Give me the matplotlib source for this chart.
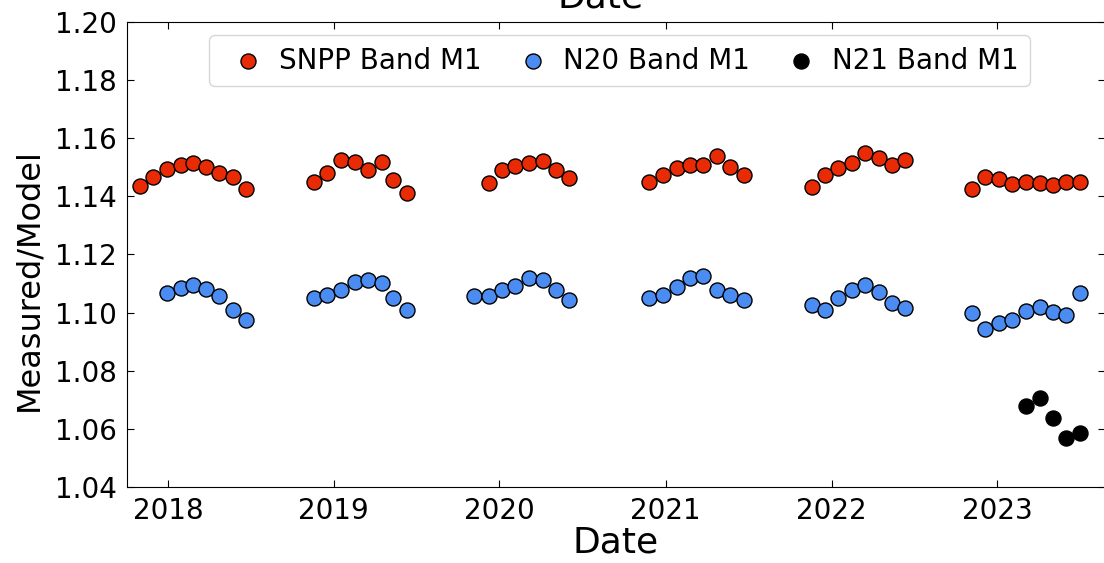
import matplotlib
matplotlib.use("Agg")
import matplotlib.pyplot as plt
import matplotlib.dates as mdates
import pandas as pd

# lunar calibration ratios, band M1
snpp_dates = [
    "2017-11-01", "2017-11-30", "2017-12-31", "2018-01-29", "2018-02-25", "2018-03-26", "2018-04-24", "2018-05-25", "2018-06-23",
    "2018-11-19", "2018-12-18", "2019-01-17", "2019-02-16", "2019-03-18", "2019-04-17", "2019-05-12", "2019-06-12",
    "2019-12-08", "2020-01-06", "2020-02-05", "2020-03-06", "2020-04-05", "2020-05-05", "2020-06-03",
    "2020-11-26", "2020-12-26", "2021-01-25", "2021-02-24", "2021-03-25", "2021-04-24", "2021-05-23", "2021-06-22",
    "2021-11-18", "2021-12-17", "2022-01-16", "2022-02-15", "2022-03-16", "2022-04-16", "2022-05-15", "2022-06-11",
    "2022-11-06", "2022-12-05", "2023-01-04", "2023-02-03", "2023-03-05", "2023-04-04", "2023-05-04", "2023-06-02", "2023-07-01",
]
snpp_ratio = [
    1.1437, 1.1466, 1.1494, 1.1508, 1.1514, 1.1502, 1.1479, 1.1468, 1.1426,
    1.1448, 1.1479, 1.1525, 1.1519, 1.1491, 1.1519, 1.1456, 1.1411,
    1.1445, 1.1491, 1.1504, 1.1514, 1.1520, 1.1491, 1.1462,
    1.1450, 1.1474, 1.1497, 1.1508, 1.1508, 1.1539, 1.1502, 1.1474,
    1.1431, 1.1474, 1.1497, 1.1514, 1.1548, 1.1531, 1.1508, 1.1525,
    1.1424, 1.1468, 1.1460, 1.1443, 1.1450, 1.1445, 1.1439, 1.1450, 1.1450,
]

n20_dates = [
    "2017-12-31", "2018-01-29", "2018-02-25", "2018-03-26", "2018-04-24", "2018-05-25", "2018-06-23",
    "2018-11-19", "2018-12-18", "2019-01-17", "2019-02-16", "2019-03-18", "2019-04-17", "2019-05-12", "2019-06-12",
    "2019-11-07", "2019-12-08", "2020-01-06", "2020-02-05", "2020-03-06", "2020-04-05", "2020-05-05", "2020-06-03",
    "2020-11-26", "2020-12-26", "2021-01-25", "2021-02-24", "2021-03-25", "2021-04-24", "2021-05-23", "2021-06-22",
    "2021-11-18", "2021-12-17", "2022-01-16", "2022-02-15", "2022-03-16", "2022-04-16", "2022-05-15", "2022-06-11",
    "2022-11-06", "2022-12-05", "2023-01-04", "2023-02-03", "2023-03-05", "2023-04-04", "2023-05-04", "2023-06-02", "2023-07-01",
]
n20_ratio = [
    1.1066, 1.1084, 1.1095, 1.1081, 1.1057, 1.1009, 1.0975,
    1.1049, 1.1061, 1.1078, 1.1106, 1.1112, 1.1101, 1.1049, 1.1009,
    1.1058, 1.1058, 1.1077, 1.1093, 1.1118, 1.1113, 1.1077, 1.1042,
    1.1049, 1.1061, 1.1089, 1.1120, 1.1126, 1.1078, 1.1061, 1.1043,
    1.1026, 1.1009, 1.1049, 1.1078, 1.1095, 1.1072, 1.1034, 1.1015,
    1.0998, 1.0943, 1.0963, 1.0975, 1.1007, 1.1020, 1.1003, 1.0992, 1.1066,
]

n21_dates = ["2023-03-05", "2023-04-04", "2023-05-04", "2023-06-02", "2023-07-01"]
n21_ratio = [1.0679, 1.0705, 1.0636, 1.0567, 1.0585]

fig = plt.figure(figsize=(11.04, 5.63), dpi=100)
ax = fig.add_axes([0.1150, 0.135, 0.8859, 0.826])

ms = 117
ax.scatter(pd.to_datetime(snpp_dates), snpp_ratio, s=ms, c="#e82a05",
           edgecolors="black", linewidths=1.0, label="SNPP Band M1", zorder=3)
ax.scatter(pd.to_datetime(n20_dates), n20_ratio, s=ms, c="#4a8cf2",
           edgecolors="black", linewidths=1.0, label="N20 Band M1", zorder=3)
ax.scatter(pd.to_datetime(n21_dates), n21_ratio, s=ms, c="black",
           edgecolors="black", linewidths=1.0, label="N21 Band M1", zorder=3)

ax.set_xlim(pd.Timestamp("2017-10-03"), pd.Timestamp("2023-08-26"))
ax.set_ylim(1.04, 1.20)
ax.set_yticks([1.04, 1.06, 1.08, 1.10, 1.12, 1.14, 1.16, 1.18, 1.20])
ax.xaxis.set_major_locator(mdates.YearLocator())
ax.xaxis.set_major_formatter(mdates.DateFormatter("%Y"))
ax.tick_params(direction="in", top=True, right=True, length=5, labelsize=20, pad=7)

ax.set_xlabel("Date", fontsize=26, labelpad=0.5)
ax.set_ylabel("Measured/Model", fontsize=23)
ax.yaxis.set_label_coords(-0.084, 0.447)

ax.legend(loc="upper left", bbox_to_anchor=(0.084, 0.971), borderaxespad=0,
          ncol=3, fontsize=20, borderpad=0.4, handlelength=2.0,
          handletextpad=0.1, columnspacing=0.85)

# x label of the panel above, clipped by the figure edge
fig.text(0.544, 1 - 7 / 563, "Date", fontsize=26, ha="center", va="baseline")

fig.savefig("out.png", dpi=100)
